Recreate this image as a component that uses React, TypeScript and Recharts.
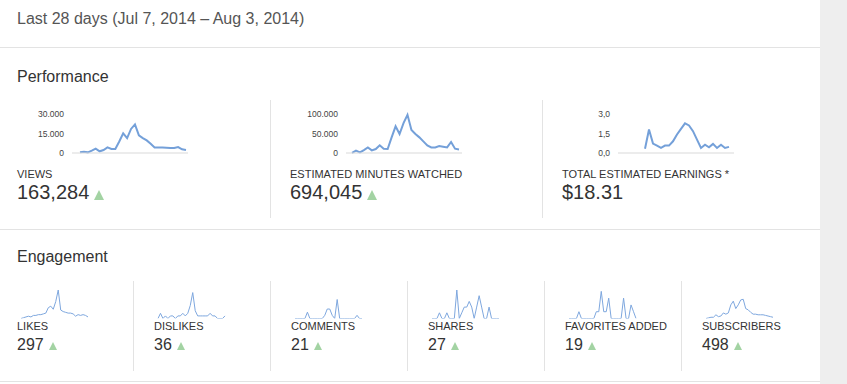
import React from 'react';
import { LineChart, Line, XAxis, YAxis } from 'recharts';

const days = [
  'Jul 7', 'Jul 8', 'Jul 9', 'Jul 10', 'Jul 11', 'Jul 12', 'Jul 13', 'Jul 14', 'Jul 15', 'Jul 16',
  'Jul 17', 'Jul 18', 'Jul 19', 'Jul 20', 'Jul 21', 'Jul 22', 'Jul 23', 'Jul 24', 'Jul 25', 'Jul 26',
  'Jul 27', 'Jul 28', 'Jul 29', 'Jul 30', 'Jul 31', 'Aug 1', 'Aug 2', 'Aug 3',
];

const views = [
  500, 1000, 500, 1800, 3300, 1300, 2300, 4300, 3100, 3100, 8900, 15100, 11500, 18500,
  22000, 13500, 11500, 9700, 7100, 4300, 4300, 4300, 4100, 3800, 3800, 4600, 2800, 2300,
];
const minutesWatched = [
  500, 5900, 1600, 7600, 14400, 6700, 10200, 19600, 11000, 10200, 40100, 68300, 48600, 76800,
  98000, 58900, 48600, 40100, 29800, 19600, 14400, 14400, 17900, 16200, 14400, 28200, 11000, 9200,
];
const earnings = [
  null, null, null, null, null, null, 0.33, 1.81, 0.72, 0.57, 0.39, 0.57, 0.57, 0.9,
  1.42, 1.86, 2.28, 2.12, 1.68, 1.03, 0.39, 0.64, 0.44, 0.7, 0.39, 0.64, 0.39, 0.47,
];

const viewTicks = [0, 15000, 30000];
const minuteTicks = [0, 50000, 100000];
const earningTicks = [0, 1.5, 3];

const likes = [3, 4, 5, 6, 5, 7, 7, 8, 8, 9, 10, 17, 19, 15, 25, 40, 14, 12, 11, 10, 10, 9, 6, 8, 7, 8, 7, 5];
const dislikes = [0, 2, 0, 1, 0, 1, 1, 0, 1, 1, 2, 1, 2, 5, 10, 3, 1, 1, 1, 1, 1, 2, 1, 1, 0, 0, 0, 1];
const comments = [0, 0, 0, 0, 0, 2, 0, 0, 0, 0, 0, 0, 1, 3, 3, 1, 0, 6, 0, 0, 0, 0, 0, 0, 0, 1, 0, 0];
const shares = [0, 0, 0, 1, 0, 0, 1, 0, 0, 0, 5, 0, 1, 2, 2, 3, 2, 0, 2, 4, 2, 0, 0, 2, 0, 0, 0, 0];
const favorites = [0, 0, 0, 0, 1, 0, 0, 0, 0, 0, 0, 1, 1, 4, 1, 1, 3, 0, 0, 0, 0, 0, 3, 0, 0, 2, 1, 0];
const subscribers = [
  4, 5, 6, 6, 10, 7, 8, 13, 11, 13, 26, 32, 20, 26, 34, 35, 20, 18, 14, 11, 11, 10, 10, 10, 9, 8, 7, 6,
];

const FONT = 'Arial, "Liberation Sans", Helvetica, sans-serif';
const LINE = '#74a0d9';
const SPARK = '#7ea7de';
const UP = '#a3d3a3';
const RULE = '#e3e3e3';
const TEXT = '#333';

const build = (values: (number | null)[]) => days.map((day, i) => ({ day, value: values[i] }));

const dotThousands = (v: number) => String(v).replace(/\B(?=(\d{3})+(?!\d))/g, '.');
const commaDecimal = (v: number) => v.toFixed(1).replace('.', ',');

const perfCards = [
  { label: 'VIEWS', total: '163,284', up: true, values: views, ticks: viewTicks, fmt: dotThousands, x: 0, axisW: 72, pad: { left: 8, right: 2 } },
  { label: 'ESTIMATED MINUTES WATCHED', total: '694,045', up: true, values: minutesWatched, ticks: minuteTicks, fmt: dotThousands, x: 270, axisW: 76, pad: { left: 6, right: 3 } },
  { label: 'TOTAL ESTIMATED EARNINGS *', total: '$18.31', up: false, values: earnings, ticks: earningTicks, fmt: commaDecimal, x: 542, axisW: 76, pad: { left: 3, right: 5 } },
];

const engCards = [
  { label: 'LIKES', total: '297', values: likes, domain: [3, 40] },
  { label: 'DISLIKES', total: '36', values: dislikes, domain: [0, 11] },
  { label: 'COMMENTS', total: '21', values: comments, domain: [0, 9] },
  { label: 'SHARES', total: '27', values: shares, domain: [0, 5] },
  { label: 'FAVORITES ADDED', total: '19', values: favorites, domain: [0, 4.2] },
  { label: 'SUBSCRIBERS', total: '498', values: subscribers, domain: [4, 50] },
];

const Up = ({ w, h, drop }: { w: number; h: number; drop: number }) => (
  <span
    style={{
      display: 'inline-block',
      width: 0,
      height: 0,
      marginLeft: 5,
      borderLeft: `${w / 2}px solid transparent`,
      borderRight: `${w / 2}px solid transparent`,
      borderBottom: `${h}px solid ${UP}`,
      verticalAlign: drop,
    }}
  />
);

const Text = ({ x, y, size, color = TEXT, children }: any) => (
  <div
    style={{
      position: 'absolute',
      left: x,
      top: y,
      fontSize: size,
      lineHeight: `${size}px`,
      color,
      whiteSpace: 'nowrap',
    }}
  >
    {children}
  </div>
);

const Rule = ({ x, y, w, h }: { x: number; y: number; w: number; h: number }) => (
  <div style={{ position: 'absolute', left: x, top: y, width: w, height: h, background: RULE }} />
);

export default function App() {
  return (
    <div style={{ position: 'absolute', left: 0, top: 0, width: 847, height: 384, background: '#fff', fontFamily: FONT, overflow: 'hidden' }}>
      <div style={{ position: 'absolute', left: 820, top: 0, width: 27, height: 384, background: '#eeeeee' }} />

      <Text x={17} y={10.5} size={16} color="#555">Last 28 days (Jul 7, 2014 – Aug 3, 2014)</Text>
      <Rule x={0} y={47} w={820} h={1} />

      <Text x={17} y={68.5} size={16}>Performance</Text>
      <Rule x={270} y={100} w={1} h={118} />
      <Rule x={542} y={100} w={1} h={118} />

      {perfCards.map((c) => (
        <React.Fragment key={c.label}>
          <div style={{ position: 'absolute', left: c.x, top: 100 }}>
            <LineChart width={c.axisW + 116} height={60} data={build(c.values)} margin={{ top: 14, right: 0, bottom: 6, left: 0 }}>
              <XAxis dataKey="day" tick={false} tickLine={false} height={1} axisLine={{ stroke: '#d9d9d9' }} padding={c.pad} />
              <YAxis
                width={c.axisW}
                domain={[c.ticks[0], c.ticks[2]]}
                ticks={c.ticks}
                interval={0}
                tickFormatter={c.fmt}
                axisLine={false}
                tickLine={false}
                tick={{ fontSize: 8.5, fill: '#444', fontFamily: FONT }}
              />
              <Line type="linear" dataKey="value" stroke={LINE} strokeWidth={2} dot={false} isAnimationActive={false} />
            </LineChart>
          </div>
          <Text x={c.x + (c.x === 0 ? 17 : 20)} y={169.3} size={11}>{c.label}</Text>
          <Text x={c.x + (c.x === 0 ? 17 : 20)} y={182.2} size={20}>
            {c.total}
            {c.up && <Up w={11} h={10} drop={-1} />}
          </Text>
        </React.Fragment>
      ))}

      <Rule x={0} y={229} w={820} h={1} />
      <Text x={17} y={248.7} size={16}>Engagement</Text>

      {engCards.map((c, i) => (
        <React.Fragment key={c.label}>
          {i > 0 && <Rule x={133 + 137 * (i - 1)} y={281} w={1} h={90} />}
          <div style={{ position: 'absolute', left: 20 + 137 * i, top: 288 }}>
            <LineChart width={69} height={33} data={build(c.values)} margin={{ top: 2, right: 1, bottom: 2.5, left: 1 }}>
              <XAxis dataKey="day" hide />
              <YAxis hide domain={c.domain} allowDataOverflow />
              <Line type="linear" dataKey="value" stroke={SPARK} strokeWidth={1} dot={false} isAnimationActive={false} />
            </LineChart>
          </div>
          <Text x={17 + 137 * i} y={320.9} size={11}>{c.label}</Text>
          <Text x={17 + 137 * i} y={336.7} size={16}>
            {c.total}
            <Up w={9} h={8} drop={0} />
          </Text>
        </React.Fragment>
      ))}

      <Rule x={0} y={381} w={820} h={1} />
    </div>
  );
}
